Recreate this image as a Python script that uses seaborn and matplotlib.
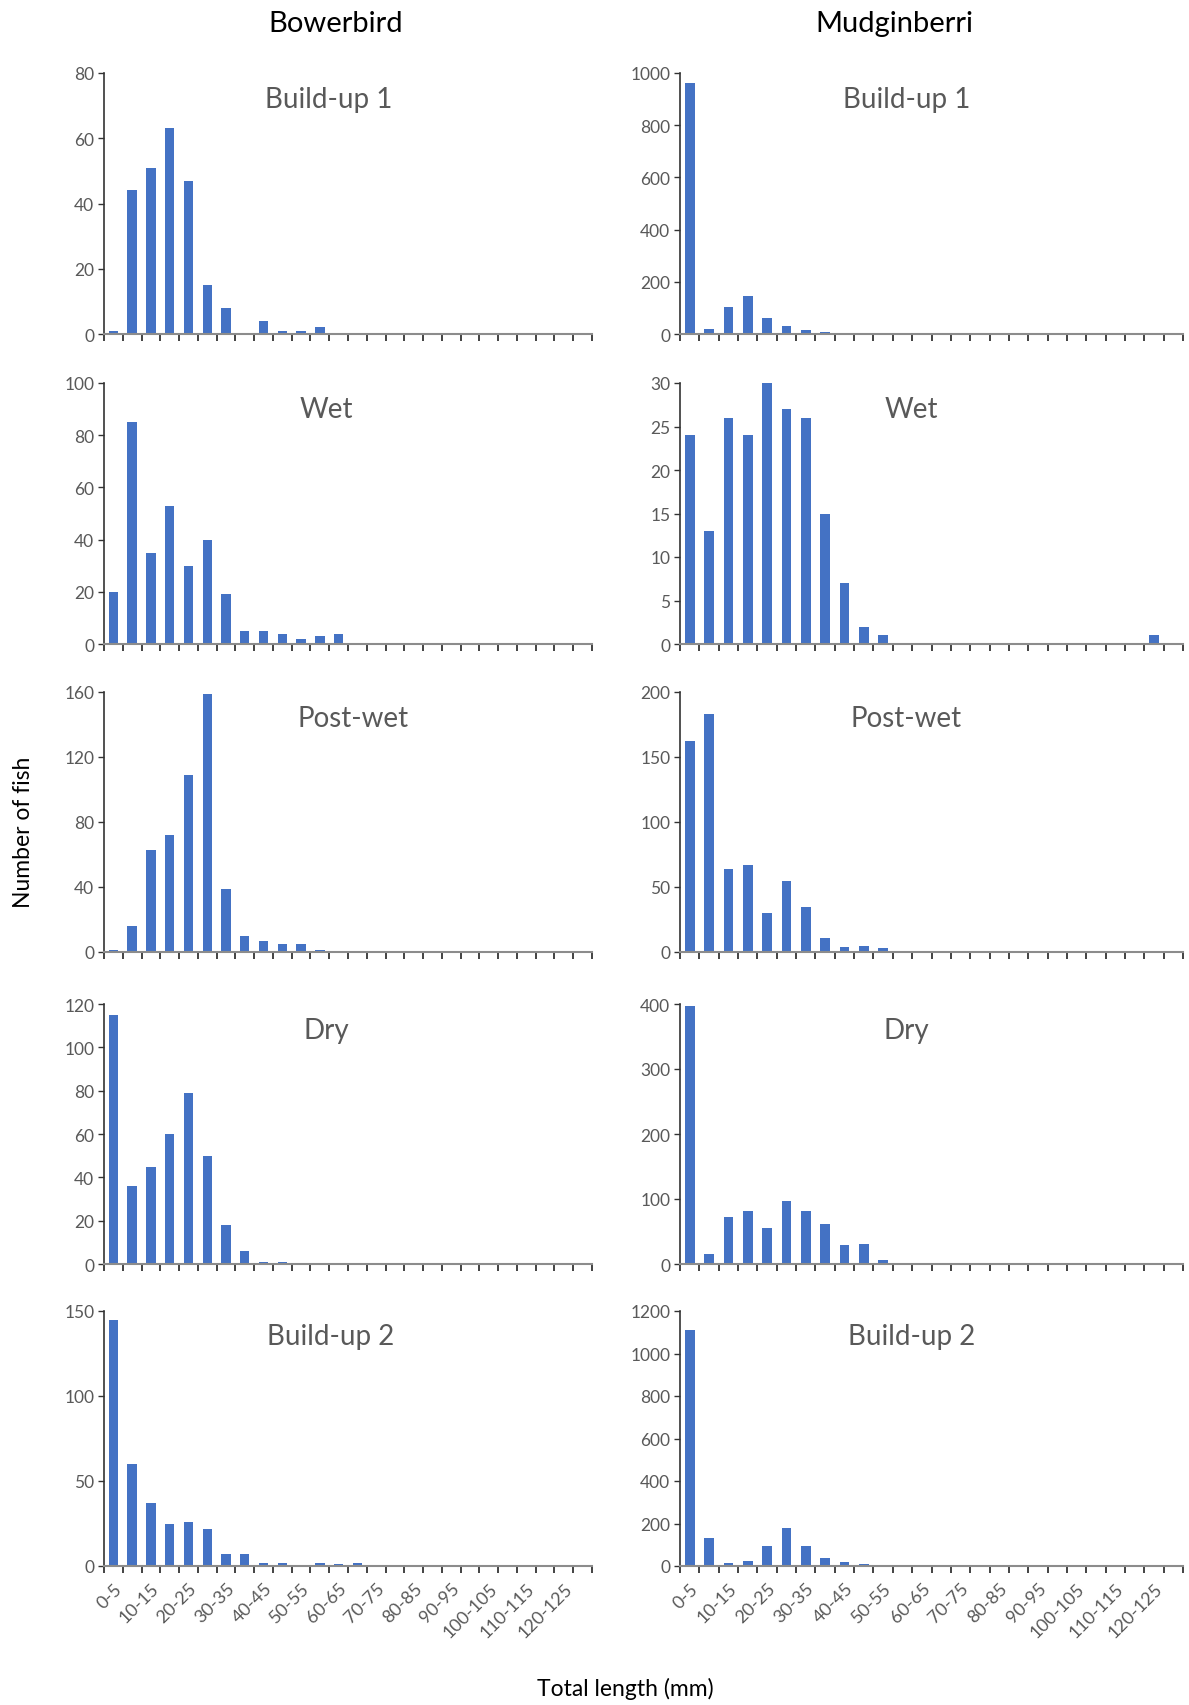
import matplotlib
matplotlib.use("Agg")
import matplotlib.pyplot as plt
import seaborn as sns

# size classes (mm), 26 bins of 5 mm
length_classes = [f"{i}-{i + 5}" for i in range(0, 130, 5)]

seasons = ["Build-up 1", "Wet", "Post-wet", "Dry", "Build-up 2"]
sites = ["Bowerbird", "Mudginberri"]

# Bowerbird counts per size class
bb_buildup1 = [1, 44, 51, 63, 47, 15, 8, 0, 4, 1, 1, 2, 0, 0, 0, 0, 0, 0, 0, 0, 0, 0, 0, 0, 0, 0]
bb_wet = [20, 85, 35, 53, 30, 40, 19, 5, 5, 4, 2, 3, 4, 0, 0, 0, 0, 0, 0, 0, 0, 0, 0, 0, 0, 0]
bb_postwet = [1, 16, 63, 72, 109, 159, 39, 10, 7, 5, 5, 1, 0, 0, 0, 0, 0, 0, 0, 0, 0, 0, 0, 0, 0, 0]
bb_dry = [115, 36, 45, 60, 79, 50, 18, 6, 1, 1, 0, 0, 0, 0, 0, 0, 0, 0, 0, 0, 0, 0, 0, 0, 0, 0]
bb_buildup2 = [145, 60, 37, 25, 26, 22, 7, 7, 2, 2, 0, 2, 1, 2, 0, 0, 0, 0, 0, 0, 0, 0, 0, 0, 0, 0]

# Mudginberri counts per size class
mu_buildup1 = [960, 20, 105, 145, 60, 30, 15, 8, 3, 2, 2, 2, 0, 0, 0, 0, 0, 0, 0, 0, 0, 0, 0, 0, 0, 0]
mu_wet = [24, 13, 26, 24, 30, 27, 26, 15, 7, 2, 1, 0, 0, 0, 0, 0, 0, 0, 0, 0, 0, 0, 0, 0, 1, 0]
mu_postwet = [162, 183, 64, 67, 30, 55, 35, 11, 4, 5, 3, 1, 1, 0, 1, 1, 0, 1, 0, 0, 0, 0, 0, 0, 0, 0]
mu_dry = [397, 15, 72, 81, 56, 97, 82, 62, 29, 31, 6, 1, 0, 1, 0, 1, 0, 0, 0, 0, 0, 0, 0, 0, 0, 0]
mu_buildup2 = [1110, 130, 12, 25, 95, 180, 95, 40, 20, 10, 4, 3, 0, 2, 0, 0, 0, 2, 0, 0, 0, 0, 0, 0, 0, 0]

bb_series = [bb_buildup1, bb_wet, bb_postwet, bb_dry, bb_buildup2]
mu_series = [mu_buildup1, mu_wet, mu_postwet, mu_dry, mu_buildup2]

# y axis maximum and step per panel
bb_ymax = [80, 100, 160, 120, 150]
bb_ystep = [20, 20, 40, 20, 50]
mu_ymax = [1000, 30, 200, 400, 1200]
mu_ystep = [200, 5, 50, 100, 200]

sns.set_style("white")
plt.rcParams["font.family"] = ["Lato", "DejaVu Sans"]

BLUE = "#4472C4"
GREY = "#595959"

fig = plt.figure(figsize=(11.89, 17.06), dpi=100)
H = 1706.0
W = 1189.0
row_top = [74, 384, 693, 1005, 1312]
row_bot = [335, 645, 953, 1265, 1567]
col_left = [104, 680]
col_right = [592, 1183]
title_x = [[0.46, 0.45], [0.455, 0.46], [0.51, 0.45], [0.455, 0.45], [0.465, 0.46]]

for r in range(5):
    for c in range(2):
        rect = [col_left[c] / W, 1 - row_bot[r] / H,
                (col_right[c] - col_left[c]) / W, (row_bot[r] - row_top[r]) / H]
        ax = fig.add_axes(rect)
        vals = bb_series[r] if c == 0 else mu_series[r]
        ymax = bb_ymax[r] if c == 0 else mu_ymax[r]
        ystep = bb_ystep[r] if c == 0 else mu_ystep[r]

        sns.barplot(x=length_classes, y=vals, ax=ax, color=BLUE,
                    saturation=1, width=0.5, linewidth=0)

        ax.set_xlim(-0.5, len(length_classes) - 0.5)
        ax.set_ylim(0, ymax)
        ax.set_yticks(list(range(0, ymax + 1, ystep)))
        ax.tick_params(axis="y", left=True, labelsize=12.5, labelcolor=GREY, length=4,
                       width=1, color="#333333", direction="out", pad=3)

        # tick marks between categories, labels on every other category
        ax.set_xticks([i - 0.5 for i in range(len(length_classes) + 1)])
        ax.set_xticklabels([])
        ax.tick_params(axis="x", which="major", bottom=True, length=5, width=1.2,
                       color="#222222", direction="out")
        if r == 4:
            ax.set_xticks(list(range(0, len(length_classes), 2)), minor=True)
            ax.set_xticklabels(length_classes[::2], minor=True, rotation=45,
                               ha="right", rotation_mode="anchor")
            ax.tick_params(axis="x", which="minor", bottom=True, length=0, labelsize=13,
                           labelcolor=GREY, pad=10)

        for side in ["top", "right"]:
            ax.spines[side].set_visible(False)
        ax.spines["left"].set_color("#333333")
        ax.spines["left"].set_linewidth(1.2)
        ax.spines["bottom"].set_color("#8c8c8c")
        ax.spines["bottom"].set_linewidth(1.5)
        ax.set_xlabel("")
        ax.set_ylabel("")
        ax.grid(False)

        ax.text(title_x[r][c], 0.90, seasons[r], transform=ax.transAxes,
                ha="center", va="center", fontsize=20, color=GREY)

fig.text(336 / W, 1 - 24 / H, sites[0], ha="center", va="center", fontsize=21, color="black")
fig.text(894 / W, 1 - 24 / H, sites[1], ha="center", va="center", fontsize=21, color="black")
fig.text(24 / W, 1 - 832 / H, "Number of fish", rotation=90, ha="center", va="center",
         fontsize=16.5, color="black")
fig.text(625 / W, 1 - 1689 / H, "Total length (mm)", ha="center", va="center",
         fontsize=16.5, color="black")

fig.savefig("out.png", dpi=100, facecolor="white")
